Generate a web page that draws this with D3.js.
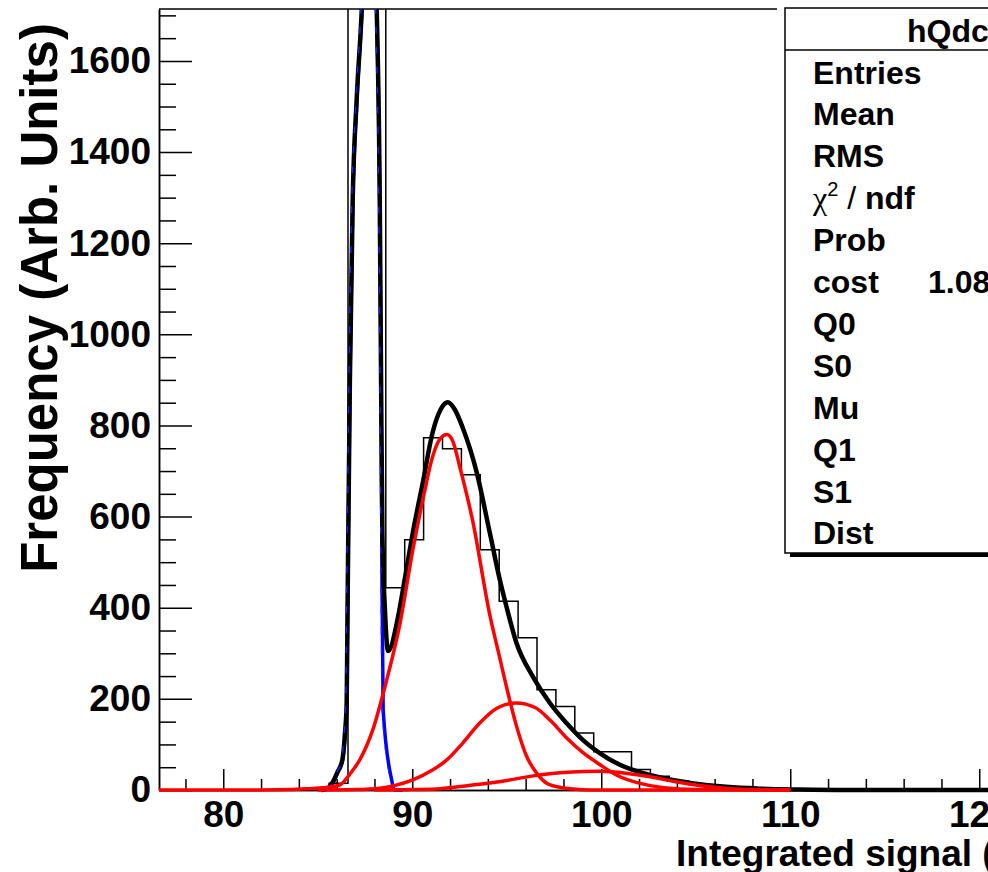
<!DOCTYPE html>
<html>
<head>
<meta charset="utf-8">
<script src="https://cdn.jsdelivr.net/npm/d3@7"></script>
<style>
  body { margin: 0; background: #fff; }
  svg text { font-family: "Liberation Sans", Arial, Helvetica, sans-serif; font-weight: bold; fill: #000; }
</style>
</head>
<body>
<div id="chart"></div>
<script>
// histogram: low edge of each bin and its entries (bin width 1)
var binLow = [85.6, 86.6, 87.6, 88.6, 89.6, 90.6, 91.6, 92.6, 93.6, 94.6, 95.6, 96.6, 97.6,
  98.6, 99.6, 100.6, 101.6, 102.6, 103.6, 104.6, 105.6, 106.6, 107.6, 108.6, 109.6];
var binCounts = [15, 2600, 2200, 444, 549, 773, 749, 692, 527, 414, 334, 220, 183,
  125, 84, 84, 45, 30, 20, 12, 8, 5, 3, 2, 1];
var binWidth = 1;

// fitted curves, [signal, frequency]
var totalFit = [[85.2, 0], [85.5, 3], [85.8, 18], [86.05, 40], [86.3, 66], [86.45, 130], [86.53, 190],
  [86.59, 460], [86.7, 900], [86.85, 1297], [87.06, 1516], [87.33, 1714], [87.55, 1960], [87.73, 2050],
  [87.93, 1960], [88.12, 1714], [88.28, 1297], [88.35, 900], [88.42, 560], [88.55, 400], [88.72, 305],
  [89.24, 378], [89.6, 462], [90.03, 565], [90.56, 675], [91.08, 785], [91.5, 835], [91.88, 851],
  [92.25, 835], [92.67, 795], [93.41, 697], [94.1, 565], [94.63, 462], [95.0, 400], [95.51, 323],
  [96.38, 249], [97.28, 191], [98.16, 147], [99.02, 110], [99.92, 81], [100.8, 59], [101.67, 44],
  [102.57, 33], [103.5, 24], [104.8, 15], [106.6, 7], [108.4, 3], [110.5, 1], [113, 0], [126, 0]];

var pedestalFit = [[85.6, 0], [85.8, 15], [86.05, 38], [86.3, 62], [86.45, 125], [86.53, 185],
  [86.59, 455], [86.7, 890], [86.85, 1285], [87.06, 1505], [87.33, 1705], [87.55, 1950], [87.73, 2040],
  [87.93, 1950], [88.12, 1700], [88.28, 1285], [88.35, 890], [88.4, 450], [88.46, 176], [88.91, 22],
  [89.05, 0], [89.5, 0]];

var pe1Fit = [[76.6, 0], [82, 0], [83.5, 1], [84.5, 3], [85.3, 5], [86.16, 11], [86.7, 35], [87.22, 66],
  [87.91, 132], [88.65, 242], [89.34, 363], [90.03, 527], [90.56, 637], [91.08, 732], [91.5, 772],
  [91.83, 780], [92.15, 765], [92.51, 710], [93.2, 590], [94.1, 385], [94.63, 290], [95.05, 215],
  [95.53, 138], [96.06, 73], [96.58, 37], [97.11, 15], [97.8, 6], [98.5, 2], [99.5, 0], [110, 0]];

var pe2Fit = [[85, 0], [87, 1], [88.3, 4], [89.0, 9], [90.03, 22], [91.0, 42], [91.83, 66], [92.67, 103],
  [93.57, 147], [94.5, 180], [95.5, 191], [96.5, 181], [97.3, 153], [98.2, 113], [99.0, 83], [99.92, 56],
  [100.8, 33], [102.0, 15], [103.3, 5], [105, 1], [110, 0]];

var pe3Fit = [[88, 0], [90, 1], [91.5, 3], [93, 10], [94.6, 18], [96.4, 31], [98.2, 39], [99.9, 41],
  [101.3, 37], [102.6, 29], [103.8, 19], [105, 11], [106.5, 4], [108, 1], [110, 0]];

// axis ticks
var xMajor = [80, 90, 100, 110, 120];
var xMinor = [78, 82, 84, 86, 88, 92, 94, 96, 98, 102, 104, 106, 108, 112, 114, 116, 118, 122, 124];
var yMajor = [0, 200, 400, 600, 800, 1000, 1200, 1400, 1600];
var yMinor = [50, 100, 150, 250, 300, 350, 450, 500, 550, 650, 700, 750, 850, 900, 950,
  1050, 1100, 1150, 1250, 1300, 1350, 1450, 1500, 1550, 1650, 1700];

// stats box
var statsTitle = "hQdc";
var statsNames = ["Entries", "Mean", "RMS", "chi", "Prob", "cost", "Q0", "S0", "Mu", "Q1", "S1", "Dist"];
var statsValues = ["", "", "", "", "", "1.08", "", "", "", "", "", ""];

var W = 988, H = 872;
var svg = d3.select("#chart").append("svg")
  .attr("width", W)
  .attr("height", H)
  .style("background", "#fff");

var x = d3.scaleLinear().domain([76.6, 126]).range([159, 159 + 49.4 * 18.9]);
var y = d3.scaleLinear().domain([0, 1714]).range([790, 9]);

function styleAxis(g) {
  g.attr("font-family", "Liberation Sans, Arial, sans-serif")
    .attr("font-weight", "bold")
    .attr("font-size", 37);
  g.selectAll("line").attr("stroke", "#000").attr("stroke-width", 1.5);
  g.selectAll("path").attr("stroke", "#000").attr("stroke-width", 1.5);
  g.selectAll("text").attr("fill", "#000");
}

// x axis
svg.append("g")
  .attr("transform", "translate(0,790)")
  .call(d3.axisBottom(x).tickValues(xMinor).tickSize(-11).tickSizeOuter(0).tickFormat(""))
  .call(styleAxis);
svg.append("g")
  .attr("transform", "translate(0,790)")
  .call(d3.axisBottom(x).tickValues(xMajor).tickSize(-21).tickSizeOuter(0).tickPadding(11).tickFormat(d3.format("d")))
  .call(styleAxis);

// y axis
svg.append("g")
  .attr("transform", "translate(159,0)")
  .call(d3.axisLeft(y).tickValues(yMinor).tickSize(-17).tickSizeOuter(0).tickFormat(""))
  .call(styleAxis);
svg.append("g")
  .attr("transform", "translate(159,0)")
  .call(d3.axisLeft(y).tickValues(yMajor).tickSize(-33).tickSizeOuter(0).tickPadding(8).tickFormat(d3.format("d")))
  .call(styleAxis);

// top of frame
svg.append("line")
  .attr("x1", 159).attr("x2", 1100)
  .attr("y1", 9).attr("y2", 9)
  .attr("stroke", "#000").attr("stroke-width", 1.5);

// clip for the plotted things
svg.append("clipPath").attr("id", "plotclip")
  .append("rect")
  .attr("x", 159).attr("y", 9)
  .attr("width", 940).attr("height", 788);

var plot = svg.append("g").attr("clip-path", "url(#plotclip)");

// histogram as an outline
var steps = [[binLow[0], 0]];
binLow.forEach(function(lo, i) {
  steps.push([lo, binCounts[i]]);
  steps.push([lo + binWidth, binCounts[i]]);
});
steps.push([binLow[binLow.length - 1] + binWidth, 0]);

plot.append("path")
  .datum(steps)
  .attr("d", d3.line().x(function(d) { return x(d[0]); }).y(function(d) { return y(d[1]); }))
  .attr("fill", "none")
  .attr("stroke", "#000")
  .attr("stroke-width", 1.5);

var curve = d3.line()
  .x(function(d) { return x(d[0]); })
  .y(function(d) { return y(d[1]); })
  .curve(d3.curveMonotoneX);

plot.append("path").datum(pedestalFit)
  .attr("d", curve).attr("fill", "none")
  .attr("stroke", "#0000ff").attr("stroke-width", 3.5);

plot.append("path").datum(totalFit)
  .attr("d", curve).attr("fill", "none")
  .attr("stroke", "#000").attr("stroke-width", 4.5)
  .attr("stroke-linejoin", "round");

// the pedestal shows through the total fit in broken blue streaks
plot.append("path").datum(pedestalFit)
  .attr("d", curve).attr("fill", "none")
  .attr("transform", "translate(-1,0)")
  .attr("stroke", "#2020ff").attr("stroke-width", 1.3)
  .attr("stroke-dasharray", "7 13");

[pe3Fit, pe2Fit, pe1Fit].forEach(function(f) {
  plot.append("path").datum(f)
    .attr("d", curve).attr("fill", "none")
    .attr("stroke", "#ff0000").attr("stroke-width", 3.5)
    .attr("stroke-linejoin", "round");
});

// axis titles
svg.append("text")
  .attr("transform", "translate(57,298) rotate(-90)")
  .attr("text-anchor", "middle")
  .attr("font-size", 51)
  .text("Frequency (Arb. Units)");

svg.append("text")
  .attr("x", 676).attr("y", 866)
  .attr("font-size", 37)
  .text("Integrated signal (Arb. Units)");

// stats box
var box = svg.append("g");
box.append("rect")
  .attr("x", 777).attr("y", 4).attr("width", 10).attr("height", 10)
  .attr("fill", "#fff");
box.append("rect")
  .attr("x", 790).attr("y", 12).attr("width", 400).attr("height", 545)
  .attr("fill", "#000");
box.append("rect")
  .attr("x", 785).attr("y", 8).attr("width", 400).attr("height", 545)
  .attr("fill", "#fff").attr("stroke", "#000").attr("stroke-width", 1.5);
box.append("line")
  .attr("x1", 785).attr("x2", 1185).attr("y1", 50).attr("y2", 50)
  .attr("stroke", "#000").attr("stroke-width", 1.5);
box.append("text")
  .attr("x", 907).attr("y", 41.5)
  .attr("font-size", 32)
  .text(statsTitle);

statsNames.forEach(function(name, i) {
  var base = 72 + i * 41.9 + 11.5;
  var t = box.append("text").attr("x", 813).attr("y", base).attr("font-size", 32);
  if (name === "chi") {
    t.append("tspan")
      .style("font-family", "Liberation Serif, Times New Roman, serif")
      .style("font-weight", "normal")
      .text("\u03c7");
    t.append("tspan")
      .attr("font-size", 20).attr("dy", -13)
      .style("font-weight", "normal")
      .text("2");
    t.append("tspan")
      .attr("dy", 13)
      .style("font-weight", "normal")
      .text(" / ");
    t.append("tspan").text("ndf");
  } else {
    t.text(name);
  }
  if (statsValues[i]) {
    box.append("text").attr("x", 928).attr("y", base).attr("font-size", 32).text(statsValues[i]);
  }
});
</script>
</body>
</html>
